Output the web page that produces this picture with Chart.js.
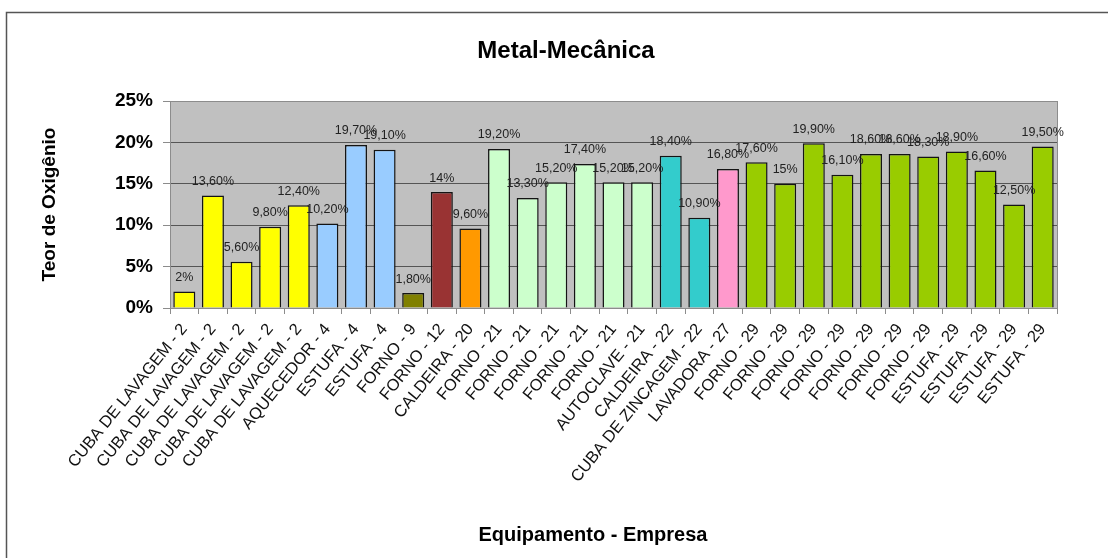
<!DOCTYPE html>
<html lang="pt-BR">
<head>
<meta charset="utf-8">
<title>Metal-Mecânica</title>
<script src="https://cdn.jsdelivr.net/npm/chart.js@4.4.1/dist/chart.umd.min.js"></script>
<style>
    body { margin: 0; background: #fff; }
    canvas { display: block; }
</style>
</head>
<body>
<canvas id="teorChart" width="1108" height="558"></canvas>
<script>
const equipamentos = [
    'CUBA DE LAVAGEM - 2', 'CUBA DE LAVAGEM - 2', 'CUBA DE LAVAGEM - 2', 'CUBA DE LAVAGEM - 2', 'CUBA DE LAVAGEM - 2',
    'AQUECEDOR - 4', 'ESTUFA - 4', 'ESTUFA - 4',
    'FORNO - 9', 'FORNO - 12', 'CALDEIRA - 20',
    'FORNO - 21', 'FORNO - 21', 'FORNO - 21', 'FORNO - 21', 'FORNO - 21', 'AUTOCLAVE - 21',
    'CALDEIRA - 22', 'CUBA DE ZINCAGEM - 22', 'LAVADORA - 27',
    'FORNO - 29', 'FORNO - 29', 'FORNO - 29', 'FORNO - 29', 'FORNO - 29', 'FORNO - 29', 'FORNO - 29',
    'ESTUFA - 29', 'ESTUFA - 29', 'ESTUFA - 29', 'ESTUFA - 29'
];

// teor de oxigênio medido (%)
const teor = [
    2, 13.6, 5.6, 9.8, 12.4,
    10.2, 19.7, 19.1,
    1.8, 14, 9.6,
    19.2, 13.3, 15.2, 17.4, 15.2, 15.2,
    18.4, 10.9, 16.8,
    17.6, 15, 19.9, 16.1, 18.6, 18.6, 18.3,
    18.9, 16.6, 12.5, 19.5
];

const passoY = 5;
const maxY = 25;

// uma cor por empresa (número depois do hífen)
const corEmpresa = {
    '2': '#FFFF00',
    '4': '#99CCFF',
    '9': '#808000',
    '12': '#993333',
    '20': '#FF9900',
    '21': '#CCFFCC',
    '22': '#33CCCC',
    '27': '#FF99CC',
    '29': '#99CC00'
};

const fonte = "'Liberation Sans', Arial, sans-serif";

function formata(v) {
    return (Number.isInteger(v) ? String(v) : v.toFixed(2).replace('.', ',')) + '%';
}

const moldura = {
    id: 'moldura',
    beforeDraw(chart) {
        const { ctx, chartArea: a } = chart;
        ctx.save();
        ctx.fillStyle = '#fff';
        ctx.fillRect(0, 0, chart.width, chart.height);
        ctx.fillStyle = '#C0C0C0';
        ctx.fillRect(a.left, a.top, a.right - a.left, a.bottom - a.top);
        ctx.restore();
    },
    beforeDatasetsDraw(chart) {
        const { ctx, chartArea: a } = chart;
        ctx.save();
        ctx.strokeStyle = '#8c8c8c';
        ctx.lineWidth = 1;
        ctx.strokeRect(a.left + 0.5, a.top + 0.5, a.right - a.left, a.bottom - a.top);
        ctx.restore();
    },
    afterDatasetsDraw(chart) {
        const { ctx } = chart;
        const meta = chart.getDatasetMeta(0);
        ctx.save();
        ctx.font = '12.5px ' + fonte;
        ctx.fillStyle = '#222';
        ctx.textAlign = 'center';
        ctx.textBaseline = 'middle';
        meta.data.forEach((bar, i) => {
            ctx.fillText(formata(teor[i]), bar.x, bar.y - 14);
        });
        ctx.restore();
    },
    afterDraw(chart) {
        const { ctx } = chart;
        ctx.save();
        // borda externa
        ctx.strokeStyle = '#555';
        ctx.lineWidth = 1.5;
        ctx.beginPath();
        ctx.moveTo(6.5, chart.height);
        ctx.lineTo(6.5, 12.5);
        ctx.lineTo(chart.width, 12.5);
        ctx.stroke();

        ctx.fillStyle = '#000';
        ctx.textAlign = 'center';
        ctx.textBaseline = 'middle';
        ctx.font = 'bold 24px ' + fonte;
        ctx.fillText('Metal-Mecânica', 566, 51);
        ctx.font = 'bold 20px ' + fonte;
        ctx.fillText('Equipamento - Empresa', 593, 535);
        ctx.restore();
    }
};

new Chart(document.getElementById('teorChart'), {
    type: 'bar',
    data: {
        labels: equipamentos,
        datasets: [{
            data: teor,
            backgroundColor: equipamentos.map(e => corEmpresa[e.split(' - ')[1]]),
            borderColor: '#141414',
            borderWidth: 1.5,
            barPercentage: 0.77,
            categoryPercentage: 1
        }]
    },
    options: {
        responsive: false,
        animation: false,
        layout: { padding: { left: 30, right: 51, top: 101, bottom: 0 } },
        plugins: {
            legend: { display: false },
            tooltip: { enabled: false },
            title: { display: false }
        },
        scales: {
            x: {
                grid: {
                    drawOnChartArea: false,
                    drawTicks: true,
                    tickLength: 6,
                    color: '#8c8c8c'
                },
                border: { color: '#8c8c8c' },
                ticks: {
                    autoSkip: false,
                    minRotation: 51,
                    maxRotation: 51,
                    padding: 6,
                    color: '#111',
                    font: { family: fonte, size: 16.5 }
                },
                afterFit: s => { s.height = 250; }
            },
            y: {
                min: 0,
                max: maxY,
                grid: {
                    color: '#555',
                    tickColor: '#8c8c8c',
                    tickLength: 7
                },
                border: { color: '#8c8c8c' },
                ticks: {
                    stepSize: passoY,
                    padding: 10,
                    color: '#000',
                    font: { family: fonte, size: 19, weight: 'bold' },
                    callback: v => v + '%'
                },
                title: {
                    display: true,
                    text: 'Teor de Oxigênio',
                    color: '#000',
                    font: { family: fonte, size: 19, weight: 'bold' },
                    padding: { top: 8, bottom: 0 }
                },
                afterFit: s => { s.width = 140; }
            }
        }
    },
    plugins: [moldura]
});
</script>
</body>
</html>
